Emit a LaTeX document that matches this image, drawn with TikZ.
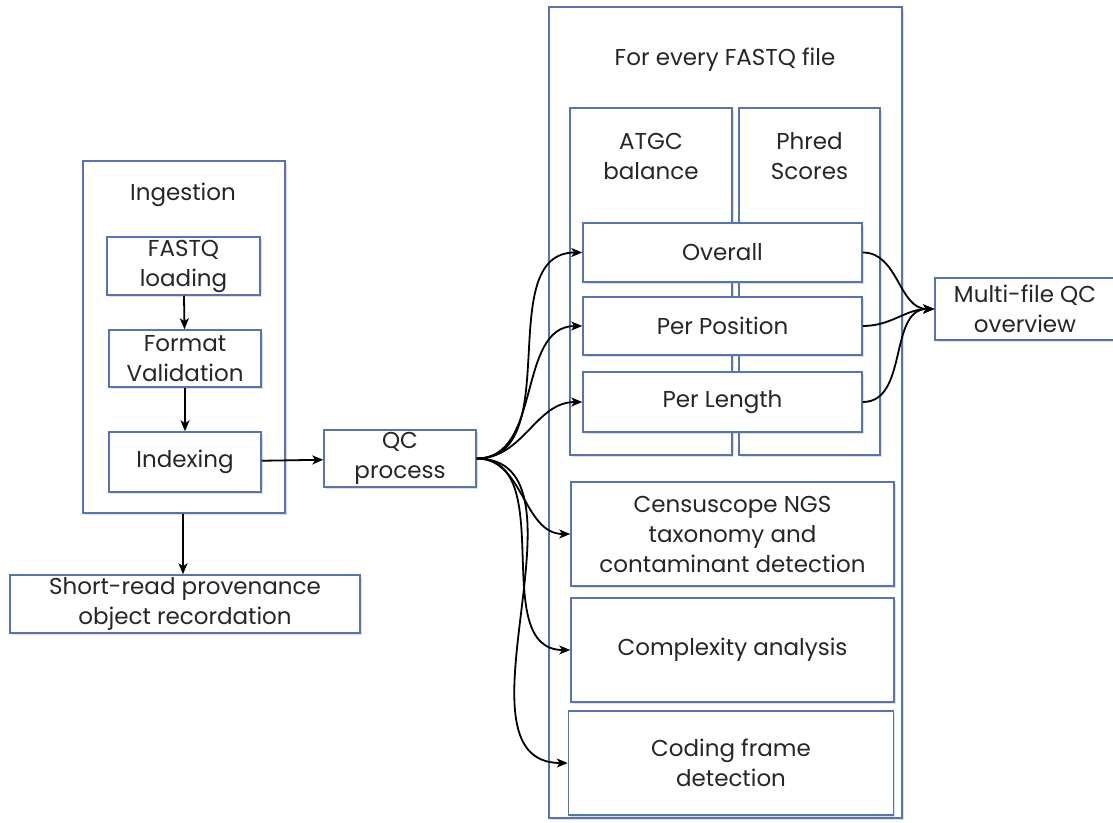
\documentclass[tikz,border=0pt]{standalone}
\usepackage{fontspec}
\setmainfont{Poppins}
\usepackage{xcolor}
\usepackage{tikz}
\usetikzlibrary{arrows.meta,shadows}
\definecolor{boxblue}{RGB}{84,117,178}
\definecolor{ink}{RGB}{38,38,38}
\tikzstyle{box}=[draw=boxblue,fill=white,line width=1.5pt,align=center,text=ink,inner sep=0pt,
  drop shadow={shadow xshift=1.5pt,shadow yshift=-1.5pt,opacity=0.25}]
\tikzstyle{title}=[text=ink,align=center]
\tikzstyle{link}=[-{Stealth[length=11pt,width=9pt,inset=3pt]},line width=1.8pt,black]

\begin{document}
\begin{tikzpicture}[x=1pt,y=-1pt,font=\fontsize{23}{30}\selectfont]
        \useasboundingbox (0,0) rectangle (1113,822);
        % containers
        \node at (184,337) [box,minimum width=202pt,minimum height=352pt] (ingest) {};
        \node at (725.5,412.5) [box,minimum width=353pt,minimum height=811pt] (perfile) {};
        \node at (651,281.5) [box,minimum width=162pt,minimum height=347pt] (atgc) {};
        \node at (809.5,281.5) [box,minimum width=141pt,minimum height=347pt] (phred) {};
        \node at (183,195) [title] (ingestlabel) {Ingestion};
        \node at (725,60) [title] (perfilelabel) {For every FASTQ file};
        \node at (651,156) [title] (atgclabel) {ATGC\\balance};
        \node at (809.5,156) [title] (phredlabel) {Phred\\Scores};
        % ingestion steps
        \node at (183.5,266) [box,minimum width=153pt,minimum height=58pt] (fastq) {FASTQ\\loading};
        \node at (185,358.5) [box,minimum width=152pt,minimum height=57pt] (format) {Format\\Validation};
        \node at (185,462) [box,minimum width=152pt,minimum height=60pt] (index) {Indexing};
        \node at (185,604) [box,minimum width=350pt,minimum height=58pt] (prov) {Short-read provenance\\object recordation};
        \node at (400,458.5) [box,minimum width=152pt,minimum height=57pt] (qc) {QC\\process};
        % per file checks
        \node at (722.5,252.5) [box,minimum width=279pt,minimum height=59pt] (overall) {Overall};
        \node at (722.5,326) [box,minimum width=279pt,minimum height=58pt] (perpos) {Per Position};
        \node at (722.5,402) [box,minimum width=279pt,minimum height=60pt] (perlen) {Per Length};
        \node at (732.5,534) [box,minimum width=323pt,minimum height=104pt] (census) {Censuscope NGS\\taxonomy and\\contaminant detection};
        \node at (732.5,650) [box,minimum width=323pt,minimum height=104pt] (complex) {Complexity analysis};
        \node at (731,763) [box,minimum width=325pt,minimum height=104pt] (coding) {Coding frame\\detection};
        \node at (1025,309) [box,minimum width=180pt,minimum height=62pt] (multi) {Multi-file QC\\overview};
        % connectors
        \draw [link] (fastq) to (format);
        \draw [link] (format) to (index);
        \draw [link] (index) to (qc);
        \draw [link] (ingest.south -| ingestlabel) to (prov.north -| ingestlabel);
        \foreach \t in {overall,perpos,perlen,census,complex,coding}
          \draw [link] (qc.east) to [out=0,in=180] (\t.west);
        \foreach \s in {overall,perpos,perlen}
          \draw [link] (\s.east) to [out=0,in=180] (multi.west);
      \end{tikzpicture}
\end{document}
